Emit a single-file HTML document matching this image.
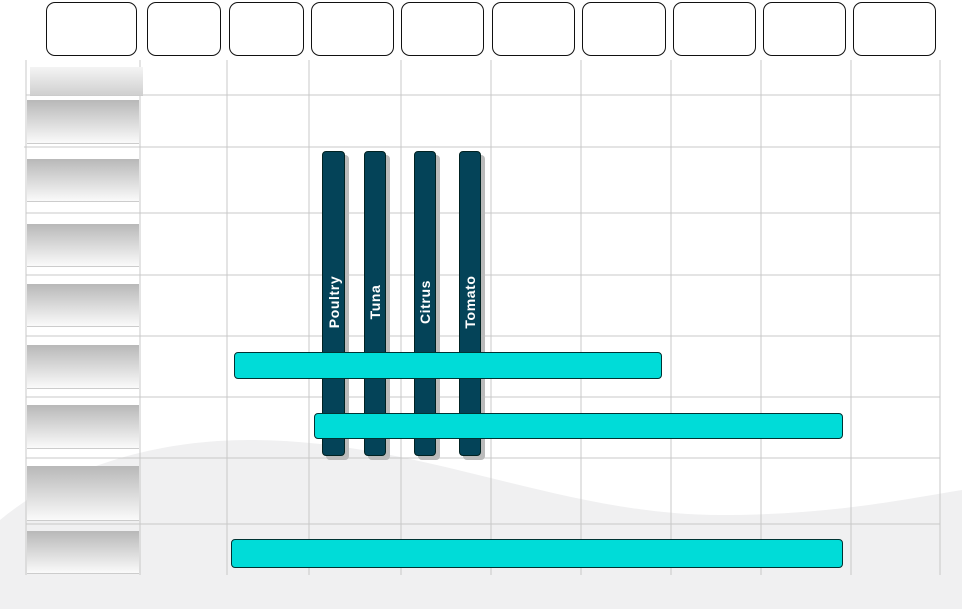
<!DOCTYPE html>
<html><head><style>
body{margin:0;width:962px;height:609px;overflow:hidden;background:#fff;position:relative;font-family:"Liberation Sans",sans-serif}
.a{position:absolute}
.hb{position:absolute;top:2px;height:54px;border:1.3px solid #111;border-radius:9px;box-sizing:border-box;background:#fff}
.rl{position:absolute;left:27px;width:112px;background:linear-gradient(#b8b8b8,#fafafa);border-bottom:1px solid #ccc}
.vb{position:absolute;top:151px;height:305px;width:22px;background:#044358;border:1px solid #022;border-radius:4px;box-sizing:border-box;box-shadow:4px 4px 0 #bbb}
.vb span{position:absolute;left:50%;top:150px;transform:translate(-50%,-50%) rotate(-90deg);color:#fff;font-weight:bold;font-size:14px;white-space:nowrap;letter-spacing:.6px}
.cb{position:absolute;background:#00dcd8;border:1px solid #033;border-radius:4px;box-sizing:border-box}
</style></head><body>
<svg class="a" style="left:0;top:0" width="962" height="609">
<path d="M0,520 C60,470 150,440 250,440 C420,440 560,515 720,515 C830,515 900,500 962,490 L962,609 L0,609 Z" fill="#f0f0f1"/>
<g stroke="#c8c8c8" stroke-width="1">
<line x1="140" y1="60" x2="140" y2="575"/><line x1="227" y1="60" x2="227" y2="575"/><line x1="309" y1="60" x2="309" y2="575"/><line x1="401" y1="60" x2="401" y2="575"/><line x1="491" y1="60" x2="491" y2="575"/><line x1="581" y1="60" x2="581" y2="575"/><line x1="671" y1="60" x2="671" y2="575"/><line x1="761" y1="60" x2="761" y2="575"/><line x1="851" y1="60" x2="851" y2="575"/><line x1="940" y1="60" x2="940" y2="575"/>
<line x1="26" y1="60" x2="26" y2="575"/>
<line x1="26" y1="95" x2="940" y2="95"/><line x1="24" y1="147" x2="940" y2="147"/><line x1="26" y1="213" x2="940" y2="213"/><line x1="26" y1="275" x2="940" y2="275"/><line x1="26" y1="336" x2="940" y2="336"/><line x1="26" y1="397" x2="940" y2="397"/><line x1="26" y1="458" x2="940" y2="458"/><line x1="26" y1="524" x2="940" y2="524"/>
</g></svg>
<div class="hb" style="left:46px;width:91px"></div>
<div class="hb" style="left:147px;width:74px"></div>
<div class="hb" style="left:229px;width:75px"></div>
<div class="hb" style="left:311px;width:83px"></div>
<div class="hb" style="left:401px;width:83px"></div>
<div class="hb" style="left:492px;width:83px"></div>
<div class="hb" style="left:582px;width:84px"></div>
<div class="hb" style="left:673px;width:83px"></div>
<div class="hb" style="left:763px;width:83px"></div>
<div class="hb" style="left:853px;width:83px"></div>
<div class="rl" style="left:30px;width:113px;top:67px;height:28px;background:linear-gradient(#f4f4f4,#d0d0d0)"></div>
<div class="rl" style="top:100px;height:43px"></div>
<div class="rl" style="top:159px;height:42px"></div>
<div class="rl" style="top:224px;height:42px"></div>
<div class="rl" style="top:284px;height:42px"></div>
<div class="rl" style="top:345px;height:43px"></div>
<div class="rl" style="top:405px;height:43px"></div>
<div class="rl" style="top:466px;height:54px"></div>
<div class="rl" style="top:531px;height:42px"></div>
<div class="vb" style="left:322px;width:23px"><span>Poultry</span></div>
<div class="vb" style="left:364px"><span>Tuna</span></div>
<div class="vb" style="left:414px"><span>Citrus</span></div>
<div class="vb" style="left:459px"><span>Tomato</span></div>
<div class="cb" style="left:234px;top:352px;width:428px;height:27px"></div>
<div class="cb" style="left:314px;top:413px;width:529px;height:26px"></div>
<div class="cb" style="left:231px;top:539px;width:612px;height:29px"></div>
</body></html>
